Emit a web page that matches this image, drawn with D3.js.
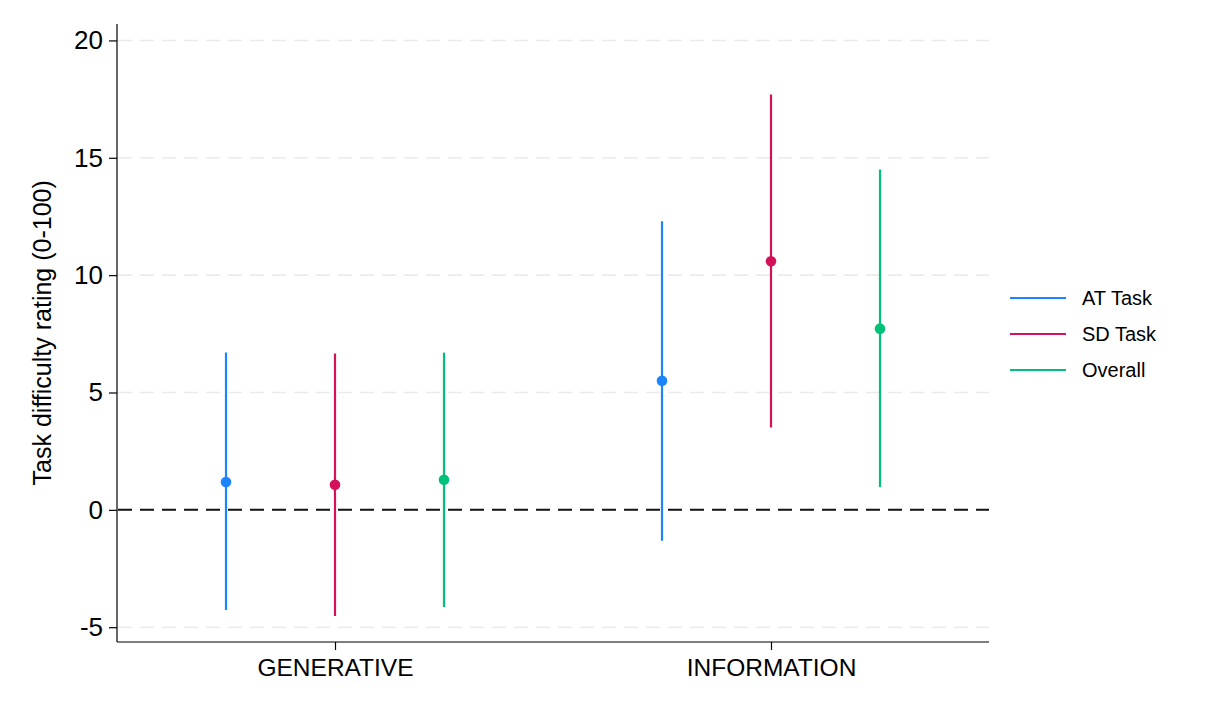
<!DOCTYPE html>
<html>
<head>
<meta charset="utf-8">
<script src="https://cdn.jsdelivr.net/npm/d3@7"></script>
<style>
  body { margin: 0; background: #fff; }
  svg { display: block; font-family: "Liberation Sans", Arial, Helvetica, sans-serif; }
</style>
</head>
<body>
<svg id="chart" width="1205" height="723"></svg>
<script>
const categories = ["GENERATIVE", "INFORMATION"];
const seriesNames = ["AT Task", "SD Task", "Overall"];
const seriesColors = ["#1A85FF", "#D41159", "#00C17A"];
// estimates [category][series]
const estimates = [[1.19, 1.07, 1.28], [5.50, 10.59, 7.72]];
const lower = [[-4.27, -4.52, -4.14], [-1.32, 3.51, 0.97]];
const upper = [[6.70, 6.66, 6.70], [12.30, 17.70, 14.50]];
const yTicks = [-5, 0, 5, 10, 15, 20];
const yTitle = "Task difficulty rating (0-100)";

const svg = d3.select("#chart");
const mLeft = 117, mRight = 989, mTop = 24, mBottom = 642;

const x = d3.scaleLinear().domain([0.5, categories.length + 0.5]).range([mLeft, mRight]);
const y = d3.scaleLinear().domain([-5.63, 20.7]).range([mBottom, mTop]);
const offsets = [-0.25, 0, 0.25];

// gridlines
svg.append("g").selectAll("line").data(yTicks.filter(d => d !== 0)).join("line")
  .attr("x1", mLeft + 1).attr("x2", mRight)
  .attr("y1", d => y(d)).attr("y2", d => y(d))
  .attr("stroke", "#ebebeb").attr("stroke-width", 1.6)
  .attr("stroke-dasharray", "14,8");

// zero reference line
svg.append("line")
  .attr("x1", mLeft + 1).attr("x2", mRight)
  .attr("y1", y(0)).attr("y2", y(0))
  .attr("stroke", "#111").attr("stroke-width", 2)
  .attr("stroke-dasharray", "14,8");

// y axis
const yAxis = d3.axisLeft(y).tickValues(yTicks).tickSize(8).tickPadding(6).tickFormat(d => String(d));
const gy = svg.append("g").attr("transform", `translate(${mLeft},0)`).call(yAxis);
gy.select(".domain").attr("d", `M0,${mTop}V${mBottom}`).attr("stroke", "#000").attr("stroke-width", 1.2);
gy.selectAll(".tick line").attr("stroke", "#000").attr("stroke-width", 1.2);
gy.selectAll(".tick text").attr("font-size", 26).attr("fill", "#000")
  .attr("font-family", "'Liberation Sans', Arial, sans-serif");

// x axis
const xAxis = d3.axisBottom(x).tickValues(categories.map((c, i) => i + 1))
  .tickFormat((d) => categories[d - 1]).tickSize(8).tickPadding(9);
const gx = svg.append("g").attr("transform", `translate(0,${mBottom})`).call(xAxis);
gx.select(".domain").attr("d", `M${mLeft},0H${mRight}`).attr("stroke", "#000").attr("stroke-width", 1.2);
gx.selectAll(".tick line").attr("stroke", "#000").attr("stroke-width", 1.2);
gx.selectAll(".tick text").attr("font-size", 24.5).attr("fill", "#000")
  .attr("font-family", "'Liberation Sans', Arial, sans-serif");

// y title
svg.append("text")
  .attr("transform", `translate(51,${(y(-5) + y(20)) / 2 - 1}) rotate(-90)`)
  .attr("text-anchor", "middle")
  .attr("font-size", 25)
  .attr("fill", "#000")
  .text(yTitle);

// marks
const points = [];
categories.forEach((c, ci) => {
  seriesNames.forEach((s, si) => {
    points.push({ cx: ci + 1 + offsets[si], est: estimates[ci][si], lo: lower[ci][si], hi: upper[ci][si], color: seriesColors[si] });
  });
});

const marks = svg.append("g");
marks.selectAll("line").data(points).join("line")
  .attr("x1", d => x(d.cx)).attr("x2", d => x(d.cx))
  .attr("y1", d => y(d.lo)).attr("y2", d => y(d.hi))
  .attr("stroke", d => d.color).attr("stroke-width", 2.2);
marks.selectAll("circle").data(points).join("circle")
  .attr("cx", d => x(d.cx)).attr("cy", d => y(d.est))
  .attr("r", 5.3).attr("fill", d => d.color);

// legend
const legend = svg.append("g").attr("transform", "translate(1010,298)");
const li = legend.selectAll("g").data(seriesNames).join("g")
  .attr("transform", (d, i) => `translate(0,${i * 36})`);
li.append("line").attr("x1", 0).attr("x2", 56).attr("y1", 0).attr("y2", 0)
  .attr("stroke", (d, i) => seriesColors[i]).attr("stroke-width", 2.2);
li.append("text").attr("x", 72).attr("y", 7).attr("font-size", 20).attr("fill", "#000").text(d => d);
</script>
</body>
</html>
